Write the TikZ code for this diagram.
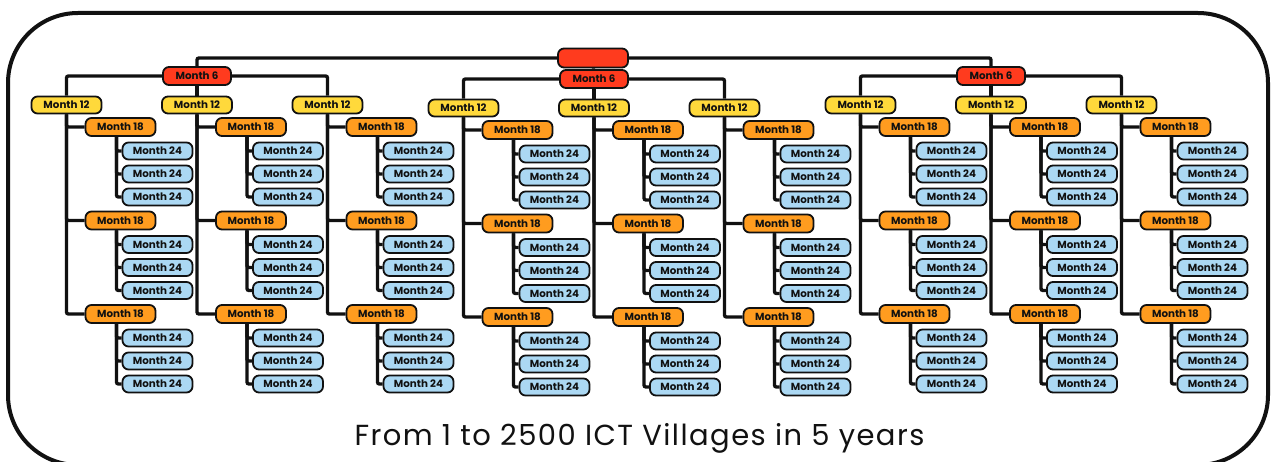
\documentclass[tikz,border=0pt]{standalone}
\usepackage{fontspec}
\setmainfont{Poppins}
\newfontfamily\titlefont[LetterSpace=5]{Poppins}
\usetikzlibrary{calc, backgrounds}
\definecolor{ink}{HTML}{111111}
\definecolor{rootred}{HTML}{FF3B1E}
\definecolor{sunyellow}{HTML}{FFD93B}
\definecolor{deeporange}{HTML}{FF9C1F}
\definecolor{skyblue}{HTML}{ABD8F3}
\tikzset{
  pill/.style={draw=ink, line width=1.8pt, rounded corners=6pt, minimum width=70pt, inner sep=0pt, text=ink, font=\bfseries\fontsize{10.3}{11}\selectfont},
  rootbox/.style={pill, fill=rootred, minimum height=19pt},
  six/.style={pill, fill=rootred, minimum width=68pt, minimum height=18pt},
  twelve/.style={pill, fill=sunyellow, minimum height=17pt},
  eighteen/.style={pill, fill=deeporange, minimum height=18pt},
  twentyfour/.style={pill, fill=skyblue, minimum height=17pt},
  link/.style={draw=ink, line width=3.4pt, rounded corners=2pt}
}

\begin{document}
\begin{tikzpicture}[x=1pt, y=-1pt]
\useasboundingbox (0,0) rectangle (1274,462);
\begin{scope}
\clip (0,0) rectangle (1274,462);
\draw[ink, line width=4pt, rounded corners=70pt] (8,13) rectangle (1268,465);
\end{scope}
\node[rootbox] (root) at (593,58) {};
\foreach \t/\cx/\dy in {1/197/0, 2/594/3, 3/991/0} {
  \node[six] (m6-\t) at (\cx,76+\dy) {Month 6};
  \foreach \j in {1,2,3} {
    \node[twelve] (m12-\t-\j) at ({\cx+(\j-2)*130.5},105+\dy) {Month 12};
    \foreach \k in {1,2,3} {
      \node[eighteen] (m18-\t-\j-\k) at ($(m12-\t-\j)+(54,{22+(\k-1)*93.5})$) {Month 18};
      \foreach \n/\off in {1/24, 2/47, 3/70}
        \node[twentyfour] (m24-\t-\j-\k-\n) at ($(m18-\t-\j-\k)+(37,\off)$) {Month 24};
    }
  }
}
\begin{scope}[on background layer]
\draw[link] (root.west) -| (m6-1.north);
\draw[link] (root.east) -| (m6-3.north);
\draw[link] (root) -- (m6-2);
\foreach \t in {1,2,3} {
  \draw[link] (m6-\t.west) -| (m12-\t-1.north);
  \draw[link] (m6-\t.east) -| (m12-\t-3.north);
  \draw[link] (m6-\t) -- (m12-\t-2);
  \foreach \j in {1,2,3} \foreach \k in {1,2,3} {
    \draw[link] (m12-\t-\j.south) |- (m18-\t-\j-\k.west);
    \foreach \n in {1,2,3}
      \draw[link] ([xshift=-4pt]m18-\t-\j-\k.south) |- (m24-\t-\j-\k-\n.west);
  }
}
\end{scope}
\node[text=ink, anchor=base, font=\titlefont\fontsize{29}{33}\selectfont] (title) at (639.5,445) {From 1 to 2500 ICT Villages in 5 years};
\end{tikzpicture}
\end{document}
